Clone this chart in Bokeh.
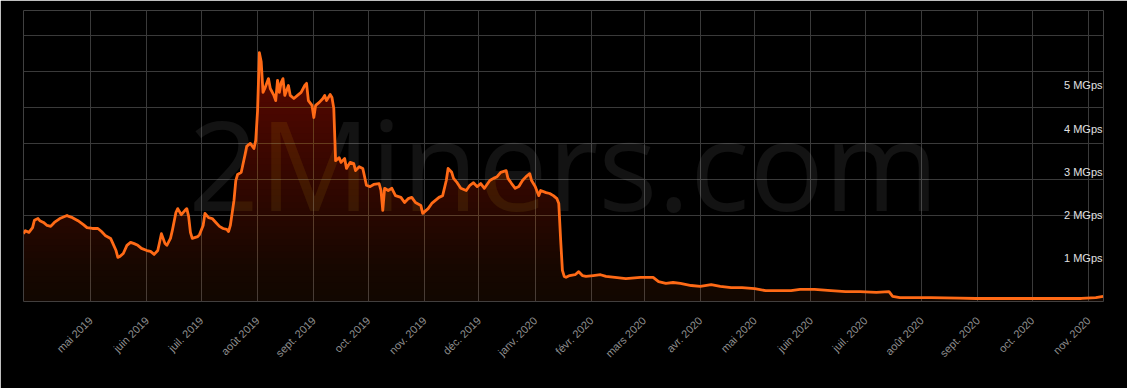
import math
import numpy as np
import pandas as pd
from bokeh.plotting import figure
from bokeh.models import Range1d, FixedTicker, Label
from bokeh.embed import file_html
from bokeh.resources import INLINE
from bokeh.core.properties import value

# ---------------- data ----------------
dates = [
    "2019-03-25", "2019-03-26", "2019-03-28", "2019-03-30", "2019-03-31", "2019-04-02", "2019-04-03",
    "2019-04-05", "2019-04-07", "2019-04-09", "2019-04-11", "2019-04-14", "2019-04-18", "2019-04-19",
    "2019-04-21", "2019-04-24", "2019-04-27", "2019-04-29", "2019-05-02", "2019-05-05", "2019-05-07",
    "2019-05-09", "2019-05-12", "2019-05-13", "2019-05-15", "2019-05-16", "2019-05-17", "2019-05-19",
    "2019-05-21", "2019-05-23", "2019-05-25", "2019-05-27", "2019-05-29", "2019-06-01", "2019-06-03",
    "2019-06-05", "2019-06-07", "2019-06-08", "2019-06-09", "2019-06-11", "2019-06-12", "2019-06-14",
    "2019-06-15", "2019-06-17", "2019-06-18", "2019-06-20", "2019-06-22", "2019-06-23", "2019-06-24",
    "2019-06-25", "2019-06-26", "2019-06-29", "2019-06-30", "2019-07-02", "2019-07-03", "2019-07-05",
    "2019-07-07", "2019-07-09", "2019-07-11", "2019-07-13", "2019-07-15", "2019-07-16", "2019-07-17",
    "2019-07-19", "2019-07-20", "2019-07-21", "2019-07-23", "2019-07-25", "2019-07-26", "2019-07-28",
    "2019-07-30", "2019-07-31", "2019-08-01", "2019-08-02", "2019-08-03", "2019-08-04", "2019-08-05",
    "2019-08-07", "2019-08-08", "2019-08-10", "2019-08-11", "2019-08-12", "2019-08-13", "2019-08-14",
    "2019-08-15", "2019-08-16", "2019-08-18", "2019-08-19", "2019-08-21", "2019-08-23", "2019-08-25",
    "2019-08-27", "2019-08-28", "2019-08-29", "2019-08-31", "2019-09-01", "2019-09-02", "2019-09-04",
    "2019-09-06", "2019-09-07", "2019-09-08", "2019-09-10", "2019-09-11", "2019-09-12", "2019-09-13",
    "2019-09-15", "2019-09-16", "2019-09-18", "2019-09-19", "2019-09-21", "2019-09-23", "2019-09-24",
    "2019-09-26", "2019-09-28", "2019-09-30", "2019-10-02", "2019-10-04", "2019-10-07", "2019-10-08",
    "2019-10-09", "2019-10-10", "2019-10-12", "2019-10-14", "2019-10-16", "2019-10-19", "2019-10-21",
    "2019-10-23", "2019-10-25", "2019-10-27", "2019-10-30", "2019-10-31", "2019-11-03", "2019-11-05",
    "2019-11-07", "2019-11-09", "2019-11-11", "2019-11-13", "2019-11-14", "2019-11-16", "2019-11-17",
    "2019-11-19", "2019-11-21", "2019-11-24", "2019-11-26", "2019-11-28", "2019-11-30", "2019-12-02",
    "2019-12-04", "2019-12-07", "2019-12-09", "2019-12-11", "2019-12-13", "2019-12-16", "2019-12-17",
    "2019-12-19", "2019-12-21", "2019-12-23", "2019-12-25", "2019-12-27", "2019-12-29", "2019-12-30",
    "2020-01-01", "2020-01-03", "2020-01-04", "2020-01-07", "2020-01-09", "2020-01-11", "2020-01-13",
    "2020-01-14", "2020-01-15", "2020-01-16", "2020-01-17", "2020-01-18", "2020-01-20", "2020-01-23",
    "2020-01-25", "2020-01-27", "2020-01-29", "2020-02-02", "2020-02-06", "2020-02-09", "2020-02-14",
    "2020-02-20", "2020-02-28", "2020-03-06", "2020-03-09", "2020-03-13", "2020-03-17", "2020-03-21",
    "2020-03-27", "2020-04-01", "2020-04-07", "2020-04-12", "2020-04-18", "2020-04-24", "2020-05-01",
    "2020-05-07", "2020-05-12", "2020-05-21", "2020-05-26", "2020-06-03", "2020-06-12", "2020-06-20",
    "2020-06-28", "2020-07-07", "2020-07-14", "2020-07-16", "2020-07-20", "2020-08-06", "2020-08-22",
    "2020-08-31", "2020-09-08", "2020-09-24", "2020-10-11", "2020-10-28", "2020-11-05", "2020-11-09",
]

hashrate_mgps = [
    1.57, 1.64, 1.60, 1.71, 1.88, 1.92, 1.87,
    1.83, 1.76, 1.74, 1.83, 1.92, 1.99, 1.97,
    1.94, 1.87, 1.78, 1.71, 1.69, 1.69, 1.62,
    1.53, 1.46, 1.37, 1.18, 1.02, 1.04, 1.11,
    1.30, 1.37, 1.34, 1.30, 1.23, 1.18, 1.16,
    1.09, 1.18, 1.37, 1.57, 1.34, 1.30, 1.46,
    1.64, 2.06, 2.15, 2.01, 2.11, 2.15, 1.97,
    1.60, 1.46, 1.50, 1.55, 1.76, 2.04, 1.94,
    1.92, 1.83, 1.74, 1.69, 1.67, 1.62, 1.76,
    2.34, 2.80, 2.94, 2.99, 3.38, 3.59, 3.66,
    3.54, 3.73, 4.42, 5.76, 5.55, 4.84, 4.93,
    5.16, 4.93, 4.77, 4.65, 5.12, 4.84, 5.07,
    5.16, 4.77, 5.00, 4.77, 4.70, 4.77, 4.84,
    5.00, 5.05, 4.65, 4.54, 4.26, 4.54, 4.61,
    4.70, 4.77, 4.65, 4.79, 4.72, 4.47, 3.26,
    3.33, 3.22, 3.31, 3.08, 3.22, 3.19, 3.03,
    3.12, 3.08, 2.69, 2.66, 2.71, 2.73, 2.57,
    2.11, 2.62, 2.57, 2.62, 2.45, 2.41, 2.29,
    2.38, 2.41, 2.29, 2.22, 2.04, 2.15, 2.27,
    2.34, 2.41, 2.45, 2.80, 3.08, 2.99, 2.85,
    2.75, 2.62, 2.57, 2.69, 2.75, 2.66, 2.73,
    2.62, 2.80, 2.85, 2.89, 2.99, 3.03, 2.85,
    2.73, 2.62, 2.66, 2.80, 2.89, 2.96, 2.80,
    2.66, 2.45, 2.57, 2.52, 2.50, 2.45, 2.38,
    2.27, 1.45, 0.72, 0.58, 0.56, 0.60, 0.62,
    0.69, 0.60, 0.58, 0.60, 0.62, 0.58, 0.56,
    0.53, 0.56, 0.56, 0.46, 0.42, 0.44, 0.42,
    0.37, 0.35, 0.39, 0.35, 0.32, 0.32, 0.30,
    0.25, 0.25, 0.25, 0.28, 0.28, 0.25, 0.23,
    0.23, 0.21, 0.23, 0.12, 0.09, 0.09, 0.08,
    0.07, 0.07, 0.07, 0.07, 0.07, 0.09, 0.12,
]

month_ticks = [
    "2019-05-01", "2019-06-01", "2019-07-01", "2019-08-01", "2019-09-01", "2019-10-01",
    "2019-11-01", "2019-12-01", "2020-01-01", "2020-02-01", "2020-03-01", "2020-04-01",
    "2020-05-01", "2020-06-01", "2020-07-01", "2020-08-01", "2020-09-01", "2020-10-01",
    "2020-11-01",
]
month_labels = [
    "mai 2019", "juin 2019", "juil. 2019", "août 2019", "sept. 2019", "oct. 2019",
    "nov. 2019", "déc. 2019", "janv. 2020", "févr. 2020", "mars 2020", "avr. 2020",
    "mai 2020", "juin 2020", "juil. 2020", "août 2020", "sept. 2020", "oct. 2020",
    "nov. 2020",
]
y_ticks = [1, 2, 3, 4, 5]
y_labels = ["1 MGps", "2 MGps", "3 MGps", "4 MGps", "5 MGps"]

# ---------------- styling ----------------
LINE_COLOR = "#ff6a16"
GRID_COLOR = "#3a3a3a"
BG = "#000000"
FONT = "Liberation Sans"
grid_levels = [1.99, 2.824, 3.657, 4.49, 5.324, 6.157]  # gridlines of the hidden left axis

x = pd.to_datetime(dates)
y = np.array(hashrate_mgps, dtype=float)

x_start = pd.Timestamp("2019-03-25 00:00")
x_end = pd.Timestamp("2020-11-09 05:00")
y_top = 6.736

p = figure(
    width=1127, height=388,
    x_axis_type="datetime", y_axis_location=None,
    x_range=Range1d(x_start, x_end), y_range=Range1d(0, y_top),
    output_backend="svg", toolbar_location=None,
    background_fill_color=BG, border_fill_color=BG,
    min_border_left=23, min_border_right=24, min_border_top=10, min_border_bottom=87,
    outline_line_color=None,
)

tick_ms = [pd.Timestamp(t).value / 1e6 for t in month_ticks]
xticker = FixedTicker(ticks=tick_ms)
p.xaxis.ticker = xticker
p.xaxis.major_label_overrides = {t: lab for t, lab in zip(tick_ms, month_labels)}
p.xaxis.major_label_orientation = math.pi / 4
p.xaxis.major_label_text_color = "#8f8f8f"
p.xaxis.major_label_text_font = FONT
p.xaxis.major_label_text_font_size = "11px"
p.xaxis.major_label_standoff = 11
p.xaxis.axis_line_color = None
p.xaxis.major_tick_line_color = None
p.xaxis.minor_tick_line_color = None

p.xgrid.ticker = xticker
p.xgrid.grid_line_color = GRID_COLOR
p.xgrid.grid_line_width = 1
p.ygrid.ticker = FixedTicker(ticks=grid_levels)
p.ygrid.grid_line_color = GRID_COLOR
p.ygrid.grid_line_width = 1

# watermark
wm = Label(
    x=(x_start.value + (x_end.value - x_start.value) / 2) / 1e6, y=3.22,
    text="2Miners.com", text_align="center", text_baseline="middle",
    text_font="Open Sans", text_font_size="124px", text_color="#ffffff", text_alpha=0.075,
    level="underlay",
)
p.add_layout(wm)

# gradient fill: stacked translucent layers so the opacity grows with height
n_layers = 40
top = y.max()
edges = np.linspace(0, top, n_layers + 1)[:-1]
alpha_bottom, alpha_top = 0.07, 0.42
target = alpha_bottom + (alpha_top - alpha_bottom) * edges / top
prev = 0.0
for lo, A in zip(edges, target):
    a = 1 - (1 - A) / (1 - prev)
    prev = A
    p.varea(x=x, y1=np.minimum(y, lo), y2=y, fill_color="#ff6a10", fill_alpha=a)

p.line(x, y, line_color=LINE_COLOR, line_width=2.8, line_join="round")

# right-hand value labels drawn inside the plot area
p.text(
    x=[x_end] * len(y_ticks), y=y_ticks, text=y_labels,
    text_align="right", text_baseline="middle", x_offset=-1,
    text_color="#e0e0e3", text_font=value(FONT), text_font_size="11px",
)

open("out.html", "w").write(file_html(p, INLINE))
